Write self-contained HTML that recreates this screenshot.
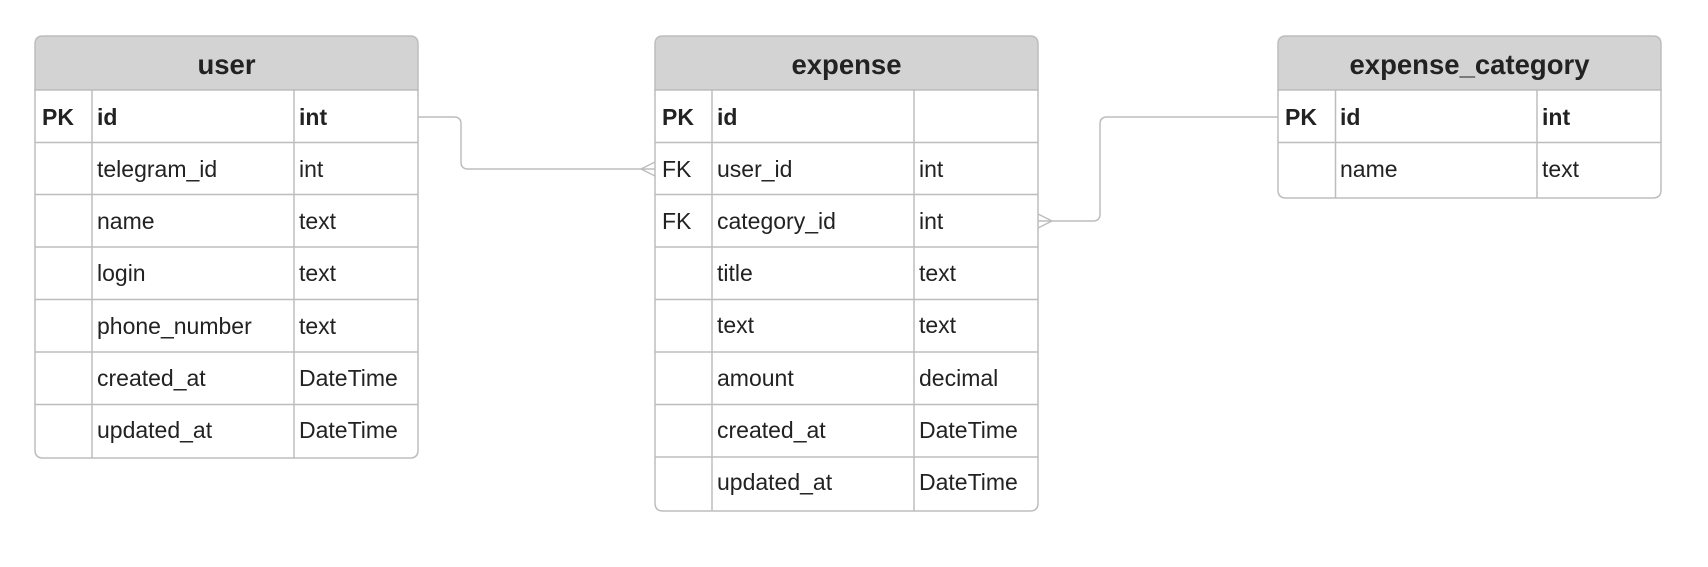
<!DOCTYPE html>
<html><head><meta charset="utf-8"><style>
body{margin:0;background:#fff;}
svg text{font-family:"Liberation Sans",Arial,sans-serif;fill:#222;}
</style></head><body>
<svg width="1708" height="562" viewBox="0 0 1708 562" xmlns="http://www.w3.org/2000/svg">
<g fill="none" stroke="#bdbdbd" stroke-width="1.5">
<path d="M418 117 H454 Q461 117 461 124 V162 Q461 169 468 169 H655"/>
<path d="M641 169 L655 162 M641 169 L655 176"/>
<path d="M1278 117 H1107 Q1100 117 1100 124 V214 Q1100 221 1093 221 H1038"/>
<path d="M1052 221 L1038 214 M1052 221 L1038 228"/>
</g>
<!-- user -->
<g>
<path d="M35 90 V44 Q35 36 43 36 H410 Q418 36 418 44 V90 Z" fill="#d3d3d3" stroke="#bdbdbd" stroke-width="1.5"/>
<path d="M35 90 H418 V450 Q418 458 410 458 H43 Q35 458 35 450 Z" fill="#fff" stroke="#bdbdbd" stroke-width="1.5"/>
<g stroke="#bdbdbd" stroke-width="1.5">
<line x1="92" y1="90" x2="92" y2="458"/><line x1="294" y1="90" x2="294" y2="458"/>
<line x1="35" y1="142.5" x2="418" y2="142.5"/><line x1="35" y1="194.5" x2="418" y2="194.5"/>
<line x1="35" y1="247" x2="418" y2="247"/><line x1="35" y1="299.5" x2="418" y2="299.5"/>
<line x1="35" y1="352" x2="418" y2="352"/><line x1="35" y1="404.5" x2="418" y2="404.5"/>
</g>
<text x="226.5" y="74" font-size="27.5" font-weight="bold" text-anchor="middle">user</text>
<g font-size="23">
<text x="42" y="125" font-weight="bold">PK</text><text x="97" y="125" font-weight="bold">id</text><text x="299" y="125" font-weight="bold">int</text>
<text x="97" y="177">telegram_id</text><text x="299" y="177">int</text>
<text x="97" y="229">name</text><text x="299" y="229">text</text>
<text x="97" y="281">login</text><text x="299" y="281">text</text>
<text x="97" y="334">phone_number</text><text x="299" y="334">text</text>
<text x="97" y="386">created_at</text><text x="299" y="386">DateTime</text>
<text x="97" y="438">updated_at</text><text x="299" y="438">DateTime</text>
</g>
</g>
<!-- expense -->
<g>
<path d="M655 90 V44 Q655 36 663 36 H1030 Q1038 36 1038 44 V90 Z" fill="#d3d3d3" stroke="#bdbdbd" stroke-width="1.5"/>
<path d="M655 90 H1038 V503 Q1038 511 1030 511 H663 Q655 511 655 503 Z" fill="#fff" stroke="#bdbdbd" stroke-width="1.5"/>
<g stroke="#bdbdbd" stroke-width="1.5">
<line x1="712" y1="90" x2="712" y2="511"/><line x1="914" y1="90" x2="914" y2="511"/>
<line x1="655" y1="142.5" x2="1038" y2="142.5"/><line x1="655" y1="194.5" x2="1038" y2="194.5"/>
<line x1="655" y1="247" x2="1038" y2="247"/><line x1="655" y1="299.5" x2="1038" y2="299.5"/>
<line x1="655" y1="352" x2="1038" y2="352"/><line x1="655" y1="404.5" x2="1038" y2="404.5"/>
<line x1="655" y1="457" x2="1038" y2="457"/>
</g>
<text x="846.5" y="74" font-size="27.5" font-weight="bold" text-anchor="middle">expense</text>
<g font-size="23">
<text x="662" y="125" font-weight="bold">PK</text><text x="717" y="125" font-weight="bold">id</text>
<text x="662" y="177">FK</text><text x="717" y="177">user_id</text><text x="919" y="177">int</text>
<text x="662" y="229">FK</text><text x="717" y="229">category_id</text><text x="919" y="229">int</text>
<text x="717" y="281">title</text><text x="919" y="281">text</text>
<text x="717" y="333">text</text><text x="919" y="333">text</text>
<text x="717" y="386">amount</text><text x="919" y="386">decimal</text>
<text x="717" y="438">created_at</text><text x="919" y="438">DateTime</text>
<text x="717" y="490">updated_at</text><text x="919" y="490">DateTime</text>
</g>
</g>
<!-- expense_category -->
<g>
<path d="M1278 90 V44 Q1278 36 1286 36 H1653 Q1661 36 1661 44 V90 Z" fill="#d3d3d3" stroke="#bdbdbd" stroke-width="1.5"/>
<path d="M1278 90 H1661 V190 Q1661 198 1653 198 H1286 Q1278 198 1278 190 Z" fill="#fff" stroke="#bdbdbd" stroke-width="1.5"/>
<g stroke="#bdbdbd" stroke-width="1.5">
<line x1="1335.5" y1="90" x2="1335.5" y2="198"/><line x1="1537" y1="90" x2="1537" y2="198"/>
<line x1="1278" y1="142.5" x2="1661" y2="142.5"/>
</g>
<text x="1469.5" y="74" font-size="27.5" font-weight="bold" text-anchor="middle">expense_category</text>
<g font-size="23">
<text x="1285" y="125" font-weight="bold">PK</text><text x="1340" y="125" font-weight="bold">id</text><text x="1542" y="125" font-weight="bold">int</text>
<text x="1340" y="177">name</text><text x="1542" y="177">text</text>
</g>
</g>
</svg>
</body></html>
